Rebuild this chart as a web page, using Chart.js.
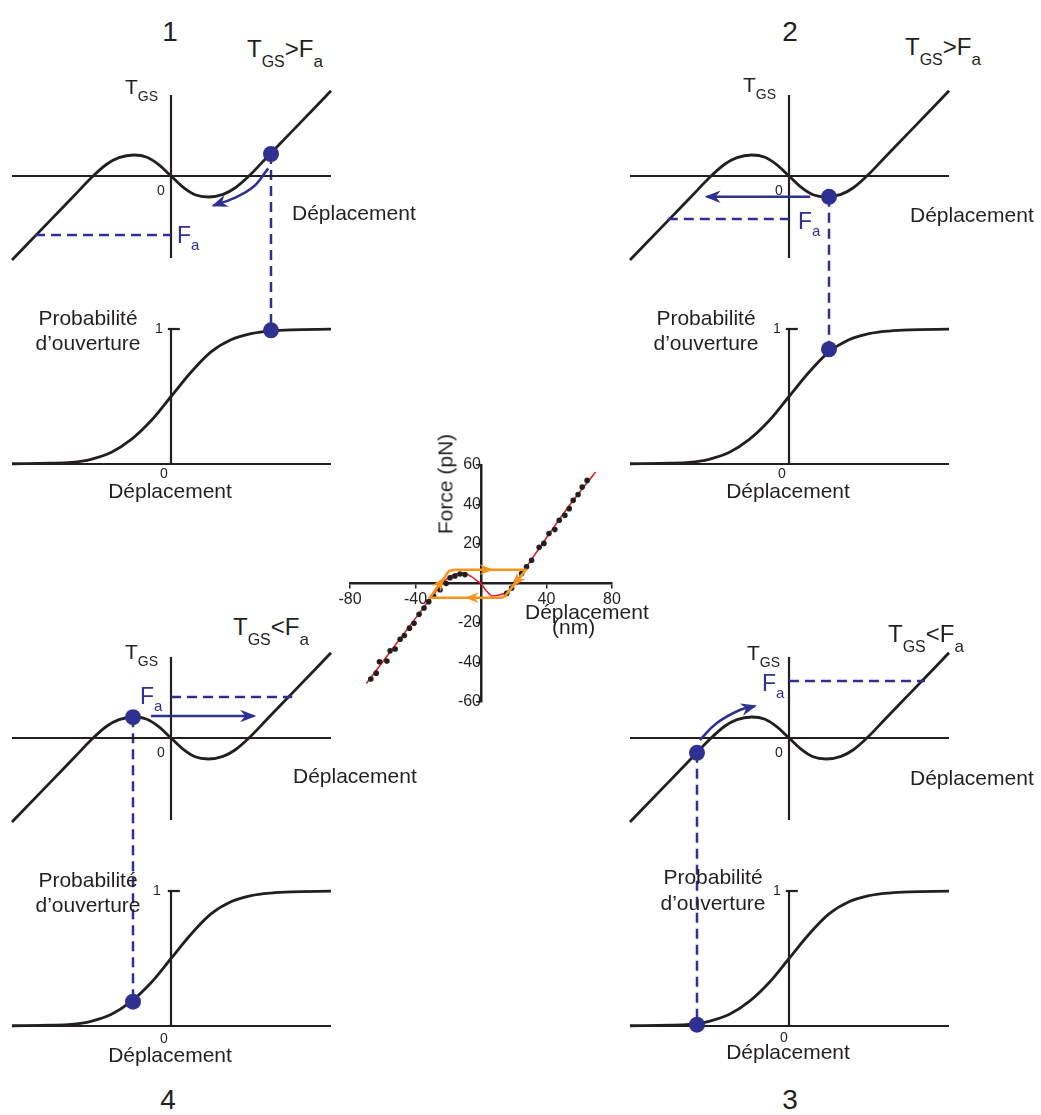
<!DOCTYPE html>
<html>
<head>
<meta charset="utf-8">
<script src="https://cdn.jsdelivr.net/npm/chart.js@4.4.1/dist/chart.umd.min.js"></script>
<style>
  body { margin: 0; background: #fff; }
  #fig { position: relative; width: 1041px; height: 1115px; overflow: hidden;
         font-family: "Liberation Sans", Arial, sans-serif; color: #231f20; }
  #fig canvas { position: absolute; }
  .t { position: absolute; white-space: nowrap; line-height: 1; }
  .t sub { position: relative; vertical-align: baseline; line-height: 1; }
  .c { transform: translateX(-50%); text-align: center; }
  .blue { color: #2e3192; }
</style>
</head>
<body>
<div id="fig">
  <canvas id="q1" width="346" height="400" style="left:0px;top:80px"></canvas>
  <canvas id="q2" width="346" height="400" style="left:618px;top:80px"></canvas>
  <canvas id="q4" width="346" height="400" style="left:0px;top:642px"></canvas>
  <canvas id="q3" width="346" height="400" style="left:618px;top:642px"></canvas>
  <canvas id="force" width="322" height="300" style="left:320px;top:440px"></canvas>

  <!-- panel numbers -->
  <div class="t c" style="left:170px;top:18px;font-size:28px">1</div>
  <div class="t c" style="left:790px;top:18px;font-size:28px">2</div>
  <div class="t c" style="left:168px;top:1086px;font-size:28px">4</div>
  <div class="t c" style="left:790px;top:1086px;font-size:28px">3</div>

  <!-- conditions -->
  <div class="t" style="left:247px;top:37px;font-size:24px">T<sub style="font-size:16px;top:10px">GS</sub>&gt;F<sub style="font-size:17px;top:10px">a</sub></div>
  <div class="t" style="left:905px;top:35px;font-size:24px">T<sub style="font-size:16px;top:10px">GS</sub>&gt;F<sub style="font-size:17px;top:10px">a</sub></div>
  <div class="t" style="left:233px;top:615px;font-size:24px">T<sub style="font-size:16px;top:10px">GS</sub>&lt;F<sub style="font-size:17px;top:10px">a</sub></div>
  <div class="t" style="left:888px;top:622px;font-size:24px">T<sub style="font-size:16px;top:10px">GS</sub>&lt;F<sub style="font-size:17px;top:10px">a</sub></div>

  <!-- T_GS axis labels -->
  <div class="t" style="left:125px;top:76px;font-size:21px">T<sub style="font-size:14px;top:7px">GS</sub></div>
  <div class="t" style="left:743px;top:74px;font-size:21px">T<sub style="font-size:14px;top:7px">GS</sub></div>
  <div class="t" style="left:125px;top:641px;font-size:21px">T<sub style="font-size:14px;top:7px">GS</sub></div>
  <div class="t" style="left:747px;top:642px;font-size:21px">T<sub style="font-size:14px;top:7px">GS</sub></div>

  <!-- zeros on T_GS panels -->
  <div class="t" style="left:157px;top:183px;font-size:14px">0</div>
  <div class="t" style="left:775px;top:183px;font-size:14px">0</div>
  <div class="t" style="left:157px;top:745px;font-size:14px">0</div>
  <div class="t" style="left:775px;top:745px;font-size:14px">0</div>

  <!-- F_a -->
  <div class="t blue" style="left:177px;top:224px;font-size:23px">F<sub style="font-size:15px;top:7px">a</sub></div>
  <div class="t blue" style="left:798px;top:210px;font-size:23px">F<sub style="font-size:15px;top:7px">a</sub></div>
  <div class="t blue" style="left:140px;top:685px;font-size:23px">F<sub style="font-size:15px;top:7px">a</sub></div>
  <div class="t blue" style="left:762px;top:672px;font-size:23px">F<sub style="font-size:15px;top:7px">a</sub></div>

  <!-- Déplacement, right of T_GS panels -->
  <div class="t" style="left:292px;top:202px;font-size:21px">Déplacement</div>
  <div class="t" style="left:910px;top:204px;font-size:21px">Déplacement</div>
  <div class="t" style="left:293px;top:765px;font-size:21px">Déplacement</div>
  <div class="t" style="left:910px;top:767px;font-size:21px">Déplacement</div>

  <!-- probability labels -->
  <div class="t c" style="left:88px;top:307px;font-size:21px">Probabilité</div>
  <div class="t c" style="left:88px;top:332px;font-size:21px">d’ouverture</div>
  <div class="t c" style="left:706px;top:307px;font-size:21px">Probabilité</div>
  <div class="t c" style="left:706px;top:332px;font-size:21px">d’ouverture</div>
  <div class="t c" style="left:88px;top:869px;font-size:21px">Probabilité</div>
  <div class="t c" style="left:88px;top:894px;font-size:21px">d’ouverture</div>
  <div class="t c" style="left:713px;top:866px;font-size:21px">Probabilité</div>
  <div class="t c" style="left:713px;top:892px;font-size:21px">d’ouverture</div>

  <div class="t" style="left:155px;top:321px;font-size:14px">1</div>
  <div class="t" style="left:773px;top:321px;font-size:14px">1</div>
  <div class="t" style="left:153px;top:883px;font-size:14px">1</div>
  <div class="t" style="left:773px;top:883px;font-size:14px">1</div>

  <div class="t" style="left:160px;top:466px;font-size:14px">0</div>
  <div class="t" style="left:778px;top:466px;font-size:14px">0</div>
  <div class="t" style="left:160px;top:1031px;font-size:14px">0</div>
  <div class="t" style="left:780px;top:1030px;font-size:14px">0</div>

  <div class="t c" style="left:170px;top:480px;font-size:21px">Déplacement</div>
  <div class="t c" style="left:788px;top:480px;font-size:21px">Déplacement</div>
  <div class="t c" style="left:170px;top:1044px;font-size:21px">Déplacement</div>
  <div class="t c" style="left:788px;top:1041px;font-size:21px">Déplacement</div>

  <!-- centre chart titles -->
  <div class="t" style="left:445px;top:484px;font-size:21px;transform:translate(-50%,-50%) rotate(-90deg)">Force (pN)</div>
  <div class="t" style="left:525px;top:601px;font-size:21px">Déplacement</div>
  <div class="t" style="left:552px;top:616px;font-size:21px">(nm)</div>
</div>

<script>
// ---- centre panel: measured force vs displacement ----
const forceX = [-67.3, -64, -62, -57.5, -55.5, -52.4, -49.4, -46.8, -43.7, -40.9, -37.8, -34.8, -31.9, -29, -25,
  -21.3, -18.9, -15.9, -12.8, -9.8, 15.7, 18.7, 21.7, 24.8, 27.8, 30.9, 35.5, 38.4, 41.5, 45.1, 47.8, 51.2,
  53.9, 56.3, 59.3, 61.8, 64.8];
const forceY = [-48.4, -45.4, -39.6, -39.3, -34.1, -33.2, -28.2, -26.3, -22.6, -20.1, -15.6, -12.4, -9.2, -6.3, -3.2,
  0, 2.9, 3.8, 4.8, 4.5, -5, -2.3, 0.9, 5.1, 8.5, 11.8, 18.3, 20.3, 25.3, 27.3, 32, 34.5,
  37.9, 42.1, 45.1, 48.8, 52.2];
const fitX = [-70, -50, -35, -28, -22, -17, -11, -6, -2, 0, 3, 7, 11, 15, 18, 22, 25, 30, 40, 55, 70];
const fitY = [-50.6, -28.6, -12.1, -4.5, 1.5, 4.5, 5.3, 3.6, 1.1, 0, -3.4, -6.3, -5.8, -4.8, -2.8, 1.3, 5.2, 11.2, 23.2, 40.6, 56.5];
// hysteresis loop (orange), arrow heads at loopArrowAt
const loopX = [13, -8.7, -31.3, -23, -19.5, -16.5, 6.5, 27.5, 20, 14.5, 13];
const loopY = [-7.2, -7.2, -7.2, 2.3, 6.3, 7, 7, 7, -0.8, -6.5, -7.2];
const loopArrowAt = [1, 3, 6, 8];
const dispTicks = [-80, -40, 40, 80];
const forceTicks = [-60, -40, -20, 20, 40, 60];

// ---- schematic panels (arbitrary units) ----
const tgsX = [-3.975, -3, -2.4, -2, -1.6, -1.3, -0.93, -0.6, -0.3, 0, 0.3, 0.6, 0.93, 1.3, 1.6, 2, 2.4, 3, 4];
const tgsY = [-2.1, -1.09, -0.47, -0.05, 0.3, 0.46, 0.525, 0.47, 0.28, 0, -0.28, -0.47, -0.525, -0.46, -0.3, 0.05, 0.47, 1.09, 2.13];
const probX = [-3.975, -3, -2.5, -2, -1.5, -1, -0.5, 0, 0.5, 1, 1.5, 2, 2.5, 3, 4];
const probY = [0.002, 0.006, 0.012, 0.035, 0.085, 0.18, 0.32, 0.5, 0.68, 0.83, 0.92, 0.965, 0.985, 0.994, 0.999];
const axisX = [-3.975, 4];
const tgsAxisY = [-2.05, 2.025];
const probAxisY = [0, 1];
const probTickX = [-0.08, 0.22];

// per panel, in the order 1, 2, 3, 4
const stateX = [2.5, 1.0, -2.3, -0.95];
const stateTgs = [0.55, -0.52, -0.37, 0.52];
const stateProb = [0.99, 0.85, 0.01, 0.18];
const faLevel = [-1.475, -1.075, 1.425, 1.025];
const faFrom = [-3.4, -3.03, 0, 0];
const faTo = [0, 0, 3.4, 3.03];
const moveX = [[2.43, 2.06, 1.56, 1.06], [0.53, -2.06], [-2.23, -1.81, -1.23, -0.85], [-0.5, 2.08]];
const moveY = [[0.19, -0.27, -0.56, -0.74], [-0.52, -0.52], [-0.05, 0.37, 0.7, 0.8], [0.55, 0.55]];

const INK = '#231f20', BLUE = '#2e3192', ORANGE = '#f7941d', RED = '#e31e24';
const FONT = '"Liberation Sans", Arial, sans-serif';

const pts = (xs, ys) => xs.map((x, i) => ({ x, y: ys[i] }));

const arrowHeads = {
  id: 'arrowHeads',
  afterDatasetsDraw(chart) {
    const ctx = chart.ctx;
    chart.data.datasets.forEach((ds, di) => {
      if (!ds.arrowAt) return;
      const els = chart.getDatasetMeta(di).data;
      ds.arrowAt.forEach(i => {
        const tip = els[i];
        let from = els[i - 1];
        if (tip.cp1x !== undefined && Math.hypot(tip.cp1x - tip.x, tip.cp1y - tip.y) > 1) {
          from = { x: tip.cp1x, y: tip.cp1y };
        }
        const a = Math.atan2(tip.y - from.y, tip.x - from.x);
        const L = ds.arrowSize || 12, W = L * 0.45;
        ctx.save();
        ctx.translate(tip.x, tip.y);
        ctx.rotate(a);
        ctx.beginPath();
        ctx.moveTo(2, 0);
        ctx.lineTo(-L, -W);
        ctx.lineTo(-L * 0.65, 0);
        ctx.lineTo(-L, W);
        ctx.closePath();
        ctx.fillStyle = ds.borderColor;
        ctx.fill();
        ctx.restore();
      });
    });
  }
};

// dashed drop line from the T_GS state to the open probability
const connector = {
  id: 'connector',
  beforeDatasetsDraw(chart, args, opts) {
    const { x, yT, yP } = chart.scales;
    const px = x.getPixelForValue(opts.at);
    const ctx = chart.ctx;
    ctx.save();
    ctx.strokeStyle = BLUE;
    ctx.lineWidth = 2.5;
    ctx.setLineDash([10, 6]);
    ctx.beginPath();
    ctx.moveTo(px, yT.getPixelForValue(opts.tgs));
    ctx.lineTo(px, yP.getPixelForValue(opts.prob));
    ctx.stroke();
    ctx.restore();
  }
};

function line(data, yAxisID, color, width, extra) {
  return Object.assign({ data, yAxisID, showLine: true, borderColor: color, borderWidth: width,
    pointRadius: 0, fill: false, tension: 0 }, extra || {});
}

function panel(canvasId, k) {
  const n = moveX[k].length;
  new Chart(document.getElementById(canvasId), {
    type: 'scatter',
    data: {
      datasets: [
        { data: [{ x: stateX[k], y: stateTgs[k] }], yAxisID: 'yT', pointRadius: 8, backgroundColor: BLUE, borderWidth: 0 },
        { data: [{ x: stateX[k], y: stateProb[k] }], yAxisID: 'yP', pointRadius: 8, backgroundColor: BLUE, borderWidth: 0 },
        line(pts(moveX[k], moveY[k]), 'yT', BLUE, 2.5, { tension: 0.4, arrowAt: [n - 1], arrowSize: 14 }),
        line(pts([faFrom[k], faTo[k]], [faLevel[k], faLevel[k]]), 'yT', BLUE, 2.5, { borderDash: [10, 6] }),
        line(pts(tgsX, tgsY), 'yT', INK, 2.8, { cubicInterpolationMode: 'monotone' }),
        line(pts(probX, probY), 'yP', INK, 2.8, { cubicInterpolationMode: 'monotone' }),
        line(pts(axisX, [0, 0]), 'yT', INK, 2.2),
        line(pts([0, 0], tgsAxisY), 'yT', INK, 2.2),
        line(pts(axisX, [0, 0]), 'yP', INK, 2.2),
        line(pts([0, 0], probAxisY), 'yP', INK, 2.2),
        line(pts(probTickX, [1, 1]), 'yP', INK, 2.2)
      ]
    },
    options: {
      responsive: false,
      animation: false,
      events: [],
      layout: { padding: 0, autoPadding: false },
      plugins: {
        legend: { display: false },
        tooltip: { enabled: false },
        connector: { at: stateX[k], tgs: stateTgs[k], prob: stateProb[k] }
      },
      scales: {
        x: { type: 'linear', min: -4.275, max: 4.375, display: false },
        yT: { type: 'linear', min: -7.6, max: 2.4, display: false },
        yP: { type: 'linear', min: -0.1185, max: 2.8444, display: false }
      }
    },
    plugins: [connector, arrowHeads]
  });
}

panel('q1', 0);
panel('q2', 1);
panel('q3', 2);
panel('q4', 3);

new Chart(document.getElementById('force'), {
  type: 'scatter',
  data: {
    datasets: [
      { data: pts(loopX, loopY), showLine: true, borderColor: ORANGE, borderWidth: 2.6, pointRadius: 0,
        tension: 0, borderJoinStyle: 'round', arrowAt: loopArrowAt, arrowSize: 12 },
      { data: pts(forceX, forceY), pointRadius: 2.8, backgroundColor: INK, borderWidth: 0 },
      { data: pts(fitX, fitY), showLine: true, borderColor: RED, borderWidth: 1.6, pointRadius: 0,
        cubicInterpolationMode: 'monotone' }
    ]
  },
  options: {
    responsive: false,
    animation: false,
    events: [],
    layout: { padding: { left: 30, right: 30, top: 25, bottom: 38 }, autoPadding: false },
    plugins: { legend: { display: false }, tooltip: { enabled: false } },
    scales: {
      x: {
        type: 'linear', position: { y: 0 }, min: -80, max: 80,
        afterBuildTicks: s => { s.ticks = dispTicks.map(v => ({ value: v })); },
        ticks: { color: INK, font: { family: FONT, size: 16 }, padding: 2, maxRotation: 0 },
        grid: { drawOnChartArea: false, tickLength: 4, color: INK, lineWidth: 1.5 },
        border: { color: INK, width: 2.5 }
      },
      y: {
        type: 'linear', position: { x: 0 }, min: -60, max: 60,
        afterBuildTicks: s => { s.ticks = forceTicks.map(v => ({ value: v })); },
        ticks: { color: INK, font: { family: FONT, size: 16 }, padding: 1 },
        grid: { drawOnChartArea: false, tickLength: 4, color: INK, lineWidth: 1.5 },
        border: { color: INK, width: 2.5 }
      }
    }
  },
  plugins: [arrowHeads]
});
</script>
</body>
</html>
